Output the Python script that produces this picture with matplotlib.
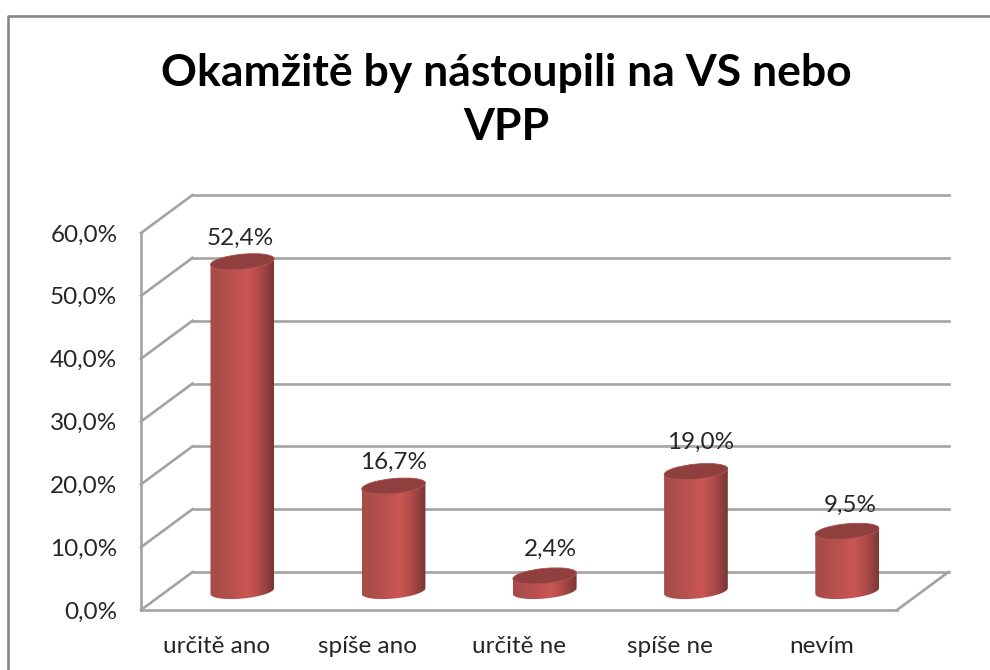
## Biblioteques
import numpy as np
import matplotlib
matplotlib.use("Agg")
import matplotlib.pyplot as plt
from matplotlib.colors import LinearSegmentedColormap
from matplotlib.lines import Line2D
from matplotlib.patches import Ellipse, PathPatch
from matplotlib.path import Path
from matplotlib.transforms import Affine2D, IdentityTransform

plt.rcParams['font.family'] = ['Lato', 'Noto Sans', 'DejaVu Sans']

## Donnees
title = "Okamžitě by nástoupili na VS nebo\nVPP"
categories = ["určitě ano", "spíše ano", "určitě ne", "spíše ne", "nevím"]
values = [52.4, 16.7, 2.4, 19.0, 9.5]
value_labels = ["52,4%", "16,7%", "2,4%", "19,0%", "9,5%"]
ticks = [0, 10, 20, 30, 40, 50, 60]
tick_labels = ["0,0%", "10,0%", "20,0%", "30,0%", "40,0%", "50,0%", "60,0%"]

## Style (pixels)
W, H = 990, 670
depth_x, depth_y = 51.5, 38
bar_w_px = 64
ell_h = 15
tilt = 5.5
label_dx = [-2, 0, 6, 5, 3]
label_dy = [23, 24, 27, 29, 26]
grid_col = "#a3a3a3"
text_col = "#262626"
fs = 17.5

fig = plt.figure(figsize=(W / 100, H / 100), dpi=100, facecolor="white")
ax = fig.add_axes([141 / W, 60 / H, 756 / W, 377 / H])
ax.set_xlim(0, 5)
ax.set_ylim(0, 60)
for s in ax.spines.values():
    s.set_visible(False)
ax.patch.set_visible(False)

px = IdentityTransform()
back = ax.transData + Affine2D().translate(depth_x, depth_y)
mid = ax.transData + Affine2D().translate(depth_x / 2, depth_y / 2)

## Murs et sol
for t in ticks:
    p0 = ax.transData.transform((0, t))
    p1 = back.transform((0, t))
    ax.plot([p0[0], p1[0]], [p0[1], p1[1]], color=grid_col, lw=1.9, transform=px, clip_on=False, zorder=1)
    ax.plot([0, 5], [t, t], color=grid_col, lw=1.9, transform=back, clip_on=False, zorder=1)
ax.plot([0, 0], [0, 60], color=grid_col, lw=1.9, clip_on=False, zorder=1)
ax.plot([0, 5], [0, 0], color=grid_col, lw=1.9, clip_on=False, zorder=1)
p0 = ax.transData.transform((5, 0))
p1 = back.transform((5, 0))
ax.plot([p0[0], p1[0]], [p0[1], p1[1]], color=grid_col, lw=1.9, transform=px, clip_on=False, zorder=1)

## Cylindres
shade = LinearSegmentedColormap.from_list("cyl", [
    (0.0, "#a64a48"), (0.3, "#b6504e"), (0.6, "#cb5654"), (0.8, "#aa4947"), (1.0, "#783634")])
grad = np.linspace(0, 1, 128).reshape(1, -1)
bar_w = bar_w_px / (756 / 5)


def half_ellipse(c, start, stop):
    a = bar_w_px / 2
    b = ell_h / 2
    r = np.radians(tilt)
    th = np.linspace(start, stop, 40)
    x = a * np.cos(th) * np.cos(r) - b * np.sin(th) * np.sin(r)
    y = a * np.cos(th) * np.sin(r) + b * np.sin(th) * np.cos(r)
    return np.column_stack([c[0] + x, c[1] + y])


for i, v in enumerate(values):
    xc = i + 0.5
    base = mid.transform((xc, 0))
    top = mid.transform((xc, v))
    pts = np.vstack([half_ellipse(base, np.pi, 2 * np.pi), half_ellipse(top, 0, np.pi)])
    body = PathPatch(Path(np.vstack([pts, pts[0]]), closed=True), transform=px, fc="none", ec="none")
    ax.add_patch(body)
    im = ax.imshow(grad, cmap=shade, extent=[xc - bar_w / 2, xc + bar_w / 2, -4, v + 4], aspect="auto",
                   transform=mid, zorder=3, interpolation="bilinear")
    im.set_clip_path(body)
    ax.add_patch(Ellipse(top, bar_w_px, ell_h, angle=tilt, transform=px, fc="#8e3f3e", ec="#b25553", lw=0.6, zorder=4))
    ax.annotate(value_labels[i], xy=top, xycoords=px, xytext=(label_dx[i], label_dy[i]), textcoords="offset pixels",
                ha="center", va="center", fontsize=fs, color=text_col, zorder=5, annotation_clip=False)

ax.set_xlim(0, 5)
ax.set_ylim(0, 60)

## Axes
ax.set_yticks(ticks)
ax.set_yticklabels(tick_labels, fontsize=fs, color=text_col)
ax.set_xticks(np.arange(len(categories)) + 0.5)
ax.set_xticklabels(categories, fontsize=fs, color=text_col)
ax.tick_params(axis="y", length=0, pad=17)
ax.tick_params(axis="x", length=0, pad=19)

## Titre et cadre
fig.text(506 / W, 1 - 100 / H, title, ha="center", va="center", fontsize=32, fontweight="bold",
         color="black", linespacing=1.45)
fig.add_artist(Line2D([8, 8, W], [0, H - 16, H - 16], color="#878787", lw=1.9, transform=px))

fig.savefig("out.png", dpi=100)
